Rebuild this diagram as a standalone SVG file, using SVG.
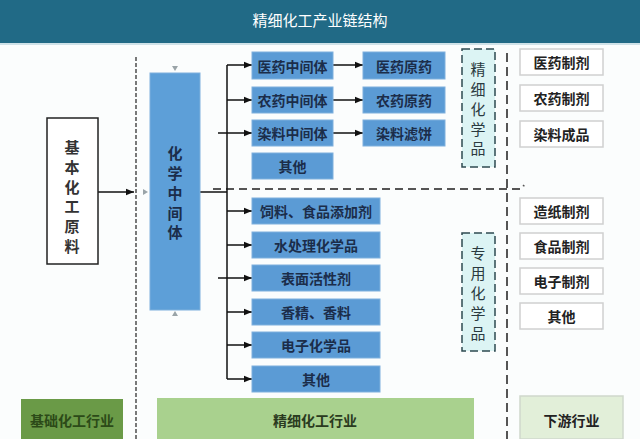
<svg xmlns="http://www.w3.org/2000/svg" width="640" height="439" viewBox="0 0 640 439">
<defs>
<marker id="ah" viewBox="0 0 10 10" refX="10" refY="5" markerWidth="8" markerHeight="8" markerUnits="userSpaceOnUse" orient="auto">
<path d="M0,1 L10,5 L0,9 Z" fill="#111"/>
</marker>
<style>
text{font-family:"Noto Sans CJK SC","Noto Sans",sans-serif;text-anchor:middle;dominant-baseline:central}
.blue{fill:#5b9bd5;stroke:#7fb0dd;stroke-width:1}
.bt{font-size:14px;fill:#1b2d4a;font-weight:bold}
.wb{fill:#ffffff;stroke:#d0d0d0;stroke-width:1.5}
.wt{font-size:14px;fill:#222;font-weight:bold}
.db{fill:#dcf4f4;stroke:#2e4a50;stroke-width:1.5;stroke-dasharray:8 4}
.dt{font-size:15px;fill:#2a3a40}
.vb{font-size:15px;font-weight:bold}
.ln{stroke:#111;stroke-width:1.5;fill:none}
.arr{stroke:#111;stroke-width:1.5;fill:none;marker-end:url(#ah)}
.tri{fill:#9aa4a8}
</style>
</defs>
<rect x="0" y="0" width="640" height="439" fill="#fbfdfd"/>
<g id="header">
<rect x="0" y="0" width="640" height="43" fill="#216a86"/>
<rect x="0" y="43" width="640" height="2" fill="#cfe2e8"/>
<text x="320" y="19" style="font-size:15px;fill:#ffffff">精细化工产业链结构</text>
</g>
<g id="connectors">
<line x1="136" y1="57" x2="136" y2="439" stroke="#222" stroke-width="1.2" stroke-dasharray="4 2"/>
<line x1="507" y1="53" x2="507" y2="439" stroke="#555" stroke-width="2" stroke-dasharray="9 5"/>
<polyline points="213,189 522,189 524,185" fill="none" stroke="#555" stroke-width="1.8" stroke-dasharray="8 5"/>
<line class="arr" x1="98" y1="192" x2="134" y2="192"/>
<line class="ln" x1="200" y1="192" x2="227" y2="192"/>
<line class="ln" x1="227" y1="65" x2="227" y2="379"/>
<line class="arr" x1="227" y1="65" x2="252" y2="65"/>
<line class="arr" x1="227" y1="100" x2="252" y2="100"/>
<line class="arr" x1="218" y1="133" x2="252" y2="133"/>
<line class="arr" x1="333" y1="65" x2="363" y2="65"/>
<line class="arr" x1="333" y1="100" x2="363" y2="100"/>
<line class="arr" x1="333" y1="133" x2="363" y2="133"/>
<line class="arr" x1="227" y1="211" x2="252" y2="211"/>
<line class="arr" x1="227" y1="245" x2="252" y2="245"/>
<line class="arr" x1="218" y1="278" x2="252" y2="278"/>
<line class="arr" x1="227" y1="312" x2="252" y2="312"/>
<line class="arr" x1="227" y1="345" x2="252" y2="345"/>
<line class="arr" x1="227" y1="379" x2="252" y2="379"/>
<polygon class="tri" points="172,66 178,66 175,71"/>
<polygon class="tri" points="172,316 178,316 175,311"/>
<polygon class="tri" points="143,189 143,195 148,192"/>
</g>
<g id="n-raw">
<rect x="47" y="118" width="51" height="146" fill="#ffffff" stroke="#222" stroke-width="1.5"/>
<text class="vb" x="72" y="146" style="fill:#333">基</text>
<text class="vb" x="72" y="166" style="fill:#333">本</text>
<text class="vb" x="72" y="186" style="fill:#333">化</text>
<text class="vb" x="72" y="205" style="fill:#333">工</text>
<text class="vb" x="72" y="225" style="fill:#333">原</text>
<text class="vb" x="72" y="245" style="fill:#333">料</text>
</g>
<g id="n-inter">
<rect x="150" y="73" width="50" height="237" fill="#5d9fd8" stroke="#7fb0dd"/>
<text class="vb" x="175" y="152" style="fill:#1b2d4a">化</text>
<text class="vb" x="175" y="172" style="fill:#1b2d4a">学</text>
<text class="vb" x="175" y="192" style="fill:#1b2d4a">中</text>
<text class="vb" x="175" y="212" style="fill:#1b2d4a">间</text>
<text class="vb" x="175" y="231" style="fill:#1b2d4a">体</text>
</g>
<g id="n-yyzj"><rect class="blue" x="252" y="52" width="81" height="27"/><text class="bt" x="292.5" y="65.5">医药中间体</text></g>
<g id="n-nyzj"><rect class="blue" x="252" y="87" width="81" height="26"/><text class="bt" x="292.5" y="100">农药中间体</text></g>
<g id="n-rlzj"><rect class="blue" x="252" y="120" width="81" height="26"/><text class="bt" x="292.5" y="133">染料中间体</text></g>
<g id="n-qt1"><rect class="blue" x="252" y="153" width="81" height="26"/><text class="bt" x="292.5" y="166">其他</text></g>
<g id="n-yyyy"><rect class="blue" x="363" y="52" width="82" height="27"/><text class="bt" x="404" y="65.5">医药原药</text></g>
<g id="n-nyyy"><rect class="blue" x="363" y="87" width="82" height="26"/><text class="bt" x="404" y="100">农药原药</text></g>
<g id="n-rllb"><rect class="blue" x="363" y="120" width="82" height="26"/><text class="bt" x="404" y="133">染料滤饼</text></g>
<g id="n-sl"><rect class="blue" x="252" y="198" width="128" height="26"/><text class="bt" x="316" y="211">饲料、食品添加剂</text></g>
<g id="n-scl"><rect class="blue" x="252" y="232" width="128" height="26"/><text class="bt" x="316" y="245">水处理化学品</text></g>
<g id="n-bm"><rect class="blue" x="252" y="265" width="128" height="26"/><text class="bt" x="316" y="278">表面活性剂</text></g>
<g id="n-xj"><rect class="blue" x="252" y="299" width="128" height="26"/><text class="bt" x="316" y="312">香精、香料</text></g>
<g id="n-dz"><rect class="blue" x="252" y="332" width="128" height="26"/><text class="bt" x="316" y="345">电子化学品</text></g>
<g id="n-qt2"><rect class="blue" x="252" y="366" width="128" height="26"/><text class="bt" x="316" y="379">其他</text></g>
<g id="n-fine">
<rect class="db" x="462" y="49" width="33" height="118"/>
<text class="dt" x="478" y="68">精</text>
<text class="dt" x="478" y="88">细</text>
<text class="dt" x="478" y="108">化</text>
<text class="dt" x="478" y="128">学</text>
<text class="dt" x="478" y="147">品</text>
</g>
<g id="n-spec">
<rect class="db" x="462" y="233" width="33" height="118"/>
<text class="dt" x="478" y="252">专</text>
<text class="dt" x="478" y="272">用</text>
<text class="dt" x="478" y="292">化</text>
<text class="dt" x="478" y="312">学</text>
<text class="dt" x="478" y="332">品</text>
</g>
<g id="n-r1"><rect class="wb" x="520" y="49" width="83" height="26"/><text class="wt" x="561.5" y="62">医药制剂</text></g>
<g id="n-r2"><rect class="wb" x="520" y="85" width="83" height="26"/><text class="wt" x="561.5" y="98">农药制剂</text></g>
<g id="n-r3"><rect class="wb" x="520" y="121" width="83" height="26"/><text class="wt" x="561.5" y="134">染料成品</text></g>
<g id="n-r4"><rect class="wb" x="520" y="198" width="83" height="26"/><text class="wt" x="561.5" y="211">造纸制剂</text></g>
<g id="n-r5"><rect class="wb" x="520" y="233" width="83" height="26"/><text class="wt" x="561.5" y="246">食品制剂</text></g>
<g id="n-r6"><rect class="wb" x="520" y="268" width="83" height="26"/><text class="wt" x="561.5" y="281">电子制剂</text></g>
<g id="n-r7"><rect class="wb" x="520" y="303" width="83" height="26"/><text class="wt" x="561.5" y="316">其他</text></g>
<g id="n-basic">
<rect x="21" y="399" width="102" height="40" fill="#6a9a47"/>
<text x="72" y="420" style="font-size:14px;font-weight:bold;fill:#2c4a18">基础化工行业</text>
</g>
<g id="n-fineind">
<rect x="157" y="398" width="317" height="41" fill="#a9d18e"/>
<text x="315" y="420" style="font-size:14px;font-weight:bold;fill:#2a3a20">精细化工行业</text>
</g>
<g id="n-down">
<rect x="520" y="396" width="103" height="43" fill="#e2efd9" stroke="#cfd8cc" stroke-width="1.5"/>
<text x="571.5" y="420" style="font-size:14px;font-weight:bold;fill:#222">下游行业</text>
</g>
</svg>
